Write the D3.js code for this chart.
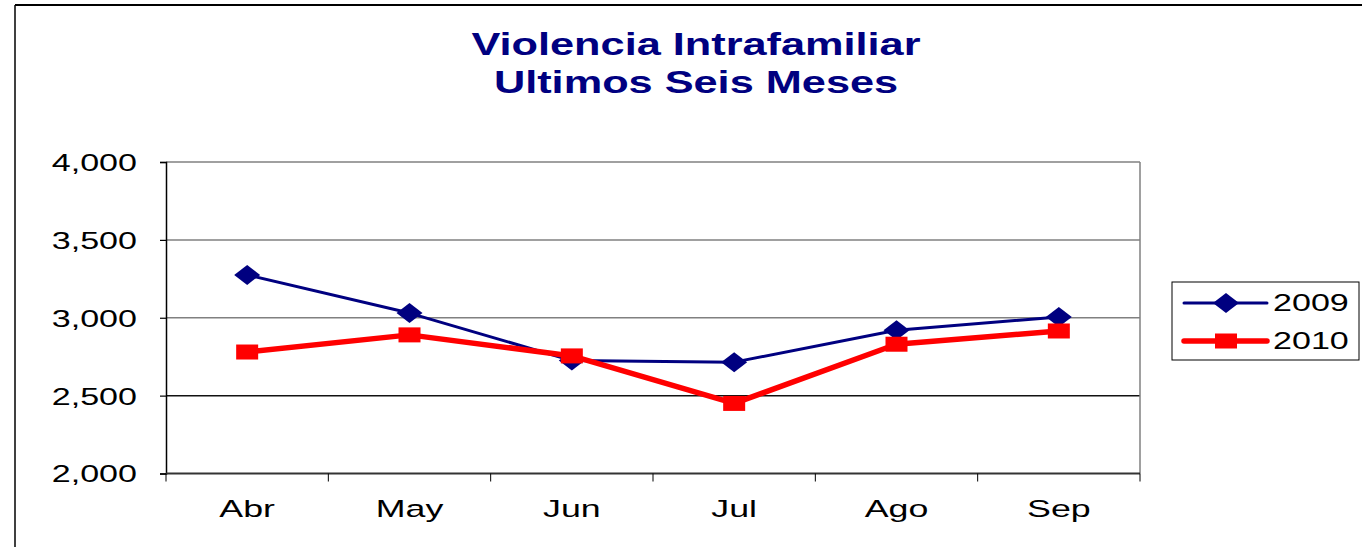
<!DOCTYPE html>
<html>
<head>
<meta charset="utf-8">
<script src="https://cdn.jsdelivr.net/npm/d3@7"></script>
<style>
  html, body { margin: 0; padding: 0; background: #fff; }
  svg { display: block; font-family: "Liberation Sans", Arial, sans-serif; }
</style>
</head>
<body>
<div id="chart"></div>
<script>
// Data
const months = ["Abr", "May", "Jun", "Jul", "Ago", "Sep"];
const values2009 = [3275, 3030, 2725, 2715, 2920, 3005];
const values2010 = [2780, 2890, 2755, 2450, 2830, 2915];
const yTicks = [2000, 2500, 3000, 3500, 4000];
const seriesNames = ["2009", "2010"];
const titleLines = ["Violencia Intrafamiliar", "Ultimos Seis Meses"];

const W = 1362, H = 547;
const FS = 23.5;  // label font size
const SX = 1.45;  // text in the original is stretched horizontally

const svg = d3.select("#chart").append("svg")
    .attr("width", W)
    .attr("height", H);

// outer chart frame (only top and left edges visible)
svg.append("line").attr("x1", 15).attr("x2", W).attr("y1", 5).attr("y2", 5)
    .attr("stroke", "#000").attr("stroke-width", 2);
svg.append("line").attr("x1", 15).attr("x2", 15).attr("y1", 5).attr("y2", H)
    .attr("stroke", "#000").attr("stroke-width", 1.5);

// Title
titleLines.forEach((t, i) => {
    svg.append("text")
        .attr("transform", "translate(696," + (54.5 + i * 38) + ") scale(1.42,1)")
        .attr("text-anchor", "middle")
        .attr("font-size", 30.5)
        .attr("font-weight", "bold")
        .attr("fill", "#000080")
        .text(t);
});

// Plot area
const plot = { left: 166, right: 1140, top: 162, bottom: 473.5 };

const x = d3.scaleBand()
    .domain(months)
    .range([plot.left, plot.right]);

const y = d3.scaleLinear()
    .domain([2000, 4000])
    .range([plot.bottom, plot.top]);

const cx = d => x(d) + x.bandwidth() / 2;

// gridlines
svg.append("g")
    .selectAll("line")
    .data(yTicks.slice(1))
    .enter().append("line")
    .attr("x1", plot.left).attr("x2", plot.right)
    .attr("y1", d => y(d)).attr("y2", d => y(d))
    .attr("stroke", d => d === 2500 ? "#111" : "#808080")
    .attr("stroke-width", 1.5);

// right plot border
svg.append("line")
    .attr("x1", plot.right).attr("x2", plot.right)
    .attr("y1", plot.top).attr("y2", plot.bottom)
    .attr("stroke", "#808080").attr("stroke-width", 1.5);

// y axis
const yAxis = svg.append("g")
    .attr("transform", "translate(" + plot.left + ",0)")
    .call(d3.axisLeft(y).tickValues(yTicks).tickSize(6).tickFormat(d3.format(",")));
yAxis.select(".domain").attr("stroke", "#000").attr("stroke-width", 1.5);
yAxis.selectAll(".tick line").attr("stroke", "#000").attr("stroke-width", 1.2);
yAxis.selectAll(".tick text")
    .attr("x", -29 / SX)
    .attr("dy", "0.36em")
    .attr("transform", "scale(" + SX + ",1)")
    .attr("font-size", FS)
    .attr("font-family", "Liberation Sans, Arial, sans-serif")
    .attr("fill", "#000");

// x axis
const xAxis = svg.append("g");
xAxis.append("line")
    .attr("x1", plot.left).attr("x2", plot.right)
    .attr("y1", plot.bottom).attr("y2", plot.bottom)
    .attr("stroke", "#333").attr("stroke-width", 2);
xAxis.selectAll(".xtick")
    .data(months.map(m => x(m)).concat([x.range()[1]]))
    .enter().append("line")
    .attr("class", "xtick")
    .attr("x1", d => d).attr("x2", d => d)
    .attr("y1", plot.bottom).attr("y2", plot.bottom + 8)
    .attr("stroke", "#000").attr("stroke-width", 1);
xAxis.selectAll(".xlabel")
    .data(months)
    .enter().append("text")
    .attr("class", "xlabel")
    .attr("transform", d => "translate(" + cx(d) + "," + (plot.bottom + 43) + ") scale(" + (SX * 1.05) + ",1)")
    .attr("text-anchor", "middle")
    .attr("font-size", FS)
    .attr("fill", "#000")
    .text(d => d);

// series
const series = [
    { name: seriesNames[0], values: values2009, color: "#000080", width: 3, shape: "diamond" },
    { name: seriesNames[1], values: values2010, color: "#ff0000", width: 5.5, shape: "square" }
];

const line = d3.line()
    .x((d, i) => cx(months[i]))
    .y(d => y(d));

function marker(g, shape, color) {
    if (shape === "diamond") {
        g.append("path")
            .attr("d", "M-13,0 L0,-10 L13,0 L0,10 Z")
            .attr("fill", color);
    } else {
        g.append("rect")
            .attr("x", -11).attr("y", -7.5)
            .attr("width", 22).attr("height", 15)
            .attr("fill", color);
    }
}

series.forEach(s => {
    svg.append("path")
        .datum(s.values)
        .attr("d", line)
        .attr("fill", "none")
        .attr("stroke", s.color)
        .attr("stroke-width", s.width)
        .attr("stroke-linejoin", "round");
    s.values.forEach((v, i) => {
        const g = svg.append("g")
            .attr("transform", "translate(" + cx(months[i]) + "," + y(v) + ")");
        marker(g, s.shape, s.color);
    });
});

// Legend
const legend = svg.append("g");
legend.append("rect")
    .attr("x", 1172).attr("y", 282)
    .attr("width", 187).attr("height", 78)
    .attr("fill", "#fff").attr("stroke", "#000").attr("stroke-width", 1);

series.forEach((s, i) => {
    const ly = 303 + i * 38;
    legend.append("line")
        .attr("x1", 1184).attr("x2", 1267)
        .attr("y1", ly).attr("y2", ly)
        .attr("stroke", s.color)
        .attr("stroke-width", s.width)
        .attr("stroke-linecap", "round");
    const g = legend.append("g").attr("transform", "translate(1226," + ly + ")");
    marker(g, s.shape, s.color);
    legend.append("text")
        .attr("transform", "translate(1273," + (ly + 8) + ") scale(" + SX + ",1)")
        .attr("font-size", FS)
        .attr("fill", "#000")
        .text(s.name);
});
</script>
</body>
</html>
